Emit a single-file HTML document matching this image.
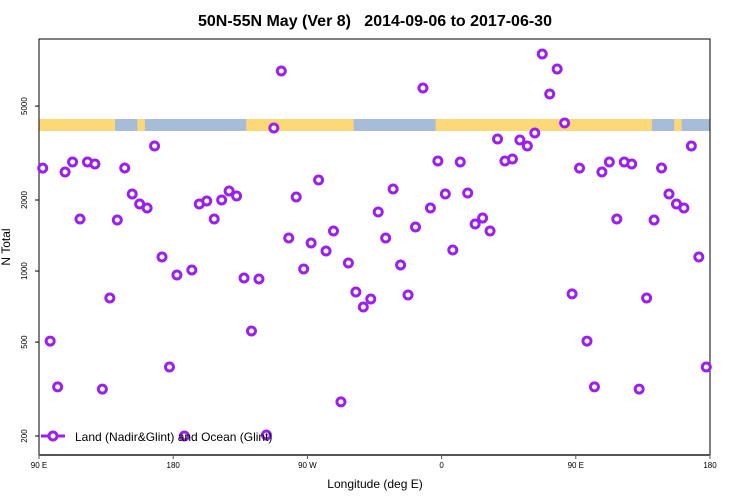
<!DOCTYPE html>
<html><head><meta charset="utf-8"><style>
body{margin:0;background:#fff}
svg{display:block;font-family:"Liberation Sans",sans-serif}
</style></head><body>
<svg id="chart" width="750" height="500">
<text x="375" y="26" text-anchor="middle" font-size="16" font-weight="bold">50N-55N May (Ver 8)&#160;&#160; 2014-09-06 to 2017-06-30</text>
<g id="band"></g>
<rect x="39" y="39" width="671" height="416" fill="none" stroke="#000" stroke-width="1"/>
<g id="axes"></g>
<g id="marks"></g>
<text x="375" y="488" text-anchor="middle" font-size="12">Longitude (deg E)</text>
<text x="10" y="247" text-anchor="middle" font-size="12" transform="rotate(-90 10 247)">N Total</text>
<g>
<line x1="41" y1="436" x2="65" y2="436" stroke="#9b1ff0" stroke-width="3"/>
<circle cx="53" cy="436" r="4" fill="#fff" stroke="#9b1ff0" stroke-width="3"/>
<text x="75" y="441" font-size="12">Land (Nadir&amp;Glint) and Ocean (Glint)</text>
</g>
</svg>
<script>
const lons=[];for(let k=0;k<90;k++)lons.push(92.5+5*k);
const nTotal=[2730,505,323,2628,2898,1662,2898,2842,316,769,1646,2732,2120,1924,1850,3386,1147,392,962,200,1010,1924,1981,1662,2000,2184,2080,934,557,925,202,4036,7040,1380,2060,1020,1315,2430,1216,1478,279,1082,815,704,761,1780,1380,2226,1061,792,1537,5966,1850,2925,2120,1228,2898,2141,1582,1677,1478,3627,2925,2984,3592,3386,3846,8312,5626,7180,4240,800,
2730,505,323,2628,2898,1662,2898,2842,316,769,1646,2732,2120,1924,1850,3386,1147,392];
const xTickVals=[90,180,270,360,450,540];
const xTickLabels=["90 E","180","90 W","0","90 E","180"];
const yTickVals=[200,500,1000,2000,5000];
const landLonRanges=[[90,141],[156,161],[229,301],[356,501],[516,521]];
const NS="http://www.w3.org/2000/svg";
const X0=39,X1=710,Y0=455,Y1=39;
const xS=v=>X0+(v-90)*(X1-X0)/450;
const yS=v=>436-(Math.log10(v)-Math.log10(200))*236;
function mk(t,a,p){const e=document.createElementNS(NS,t);for(const k in a)e.setAttribute(k,a[k]);p.appendChild(e);return e;}
const band=document.getElementById('band');
mk('rect',{x:X0,y:119,width:X1-X0,height:12,fill:'#a7bcd9'},band);
landLonRanges.forEach(r=>{const e=mk('rect',{x:xS(r[0]),y:119,width:xS(r[1])-xS(r[0]),height:12,fill:'#fcd877'},band);

});
const ax=document.getElementById('axes');
mk('line',{x1:X0,y1:Y0,x2:X1,y2:Y0,stroke:'#555','stroke-width':2},ax);
xTickVals.forEach((v,i)=>{const x=xS(v);
mk('line',{x1:x,y1:Y0,x2:x,y2:Y0+4,stroke:'#555'},ax);
const t=mk('text',{x:x,y:468,'text-anchor':'middle','font-size':8},ax);t.textContent=xTickLabels[i];

});
yTickVals.forEach(v=>{const y=yS(v);
mk('line',{x1:X0-4,y1:y,x2:X0,y2:y,stroke:'#000'},ax);
const t=mk('text',{x:27,y:y,'text-anchor':'middle','font-size':8,transform:`rotate(-90 27 ${y})`},ax);t.textContent=v;

});
const mg=document.getElementById('marks');
lons.forEach((l,i)=>{const c=mk('circle',{cx:xS(l),cy:yS(nTotal[i]),r:4,fill:'#fff',stroke:'#9b1ff0','stroke-width':3},mg);

});
</script>
</body></html>
